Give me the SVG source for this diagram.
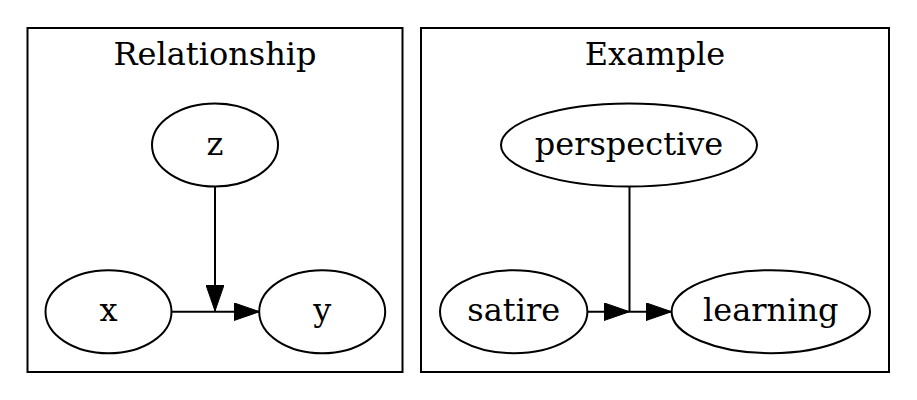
<svg xmlns="http://www.w3.org/2000/svg" width="917" height="400" viewBox="0 0 917 400">
<defs>
<style>
.cl{fill:none;stroke:#000;stroke-width:2}
.nd ellipse{fill:none;stroke:#000;stroke-width:2}
text{font-family:"DejaVu Serif","Liberation Serif",serif;font-size:32px;fill:#000;text-anchor:middle}
.ed{fill:none;stroke:#000;stroke-width:2}
</style>
<marker id="ah" markerWidth="26" markerHeight="18" refX="26" refY="9" orient="auto" markerUnits="userSpaceOnUse">
<path d="M0,0 L26,9 L0,18 Z" fill="#000" stroke="#000" stroke-width="1"/>
</marker>
</defs>
<rect width="917" height="400" fill="#fff"/>
<g id="cluster_relationship">
<rect class="cl" x="27.5" y="28" width="375" height="344"/>
<text x="215" y="65">Relationship</text>
</g>
<g id="cluster_example">
<rect class="cl" x="421" y="28" width="468" height="344"/>
<text x="655" y="65">Example</text>
</g>
<g id="node_z" class="nd"><ellipse cx="215" cy="145" rx="63" ry="41.5"/><text x="215" y="155">z</text></g>
<g id="node_x" class="nd"><ellipse cx="108.5" cy="311.7" rx="63" ry="41.5"/><text x="108.5" y="321">x</text></g>
<g id="node_y" class="nd"><ellipse cx="322.2" cy="311.7" rx="63" ry="41.5"/><text x="322.2" y="321">y</text></g>
<g id="node_perspective" class="nd"><ellipse cx="629" cy="145" rx="128" ry="41.5"/><text x="629" y="155">perspective</text></g>
<g id="node_satire" class="nd"><ellipse cx="513.7" cy="311.7" rx="73.7" ry="41.5"/><text x="513.7" y="321">satire</text></g>
<g id="node_learning" class="nd"><ellipse cx="770.8" cy="311.7" rx="99.2" ry="41.5"/><text x="770.8" y="321">learning</text></g>
<g id="connectors">
<path class="ed" d="M171.5,311.7 H215"/>
<path class="ed" d="M215,311.7 H259.5" marker-end="url(#ah)"/>
<path class="ed" d="M215,186.5 V311" marker-end="url(#ah)"/>
<path class="ed" d="M587.4,311.7 H629.5" marker-end="url(#ah)"/>
<path class="ed" d="M629.5,186.5 V311.7"/>
<path class="ed" d="M629.5,311.7 H671.6" marker-end="url(#ah)"/>
</g>
</svg>
